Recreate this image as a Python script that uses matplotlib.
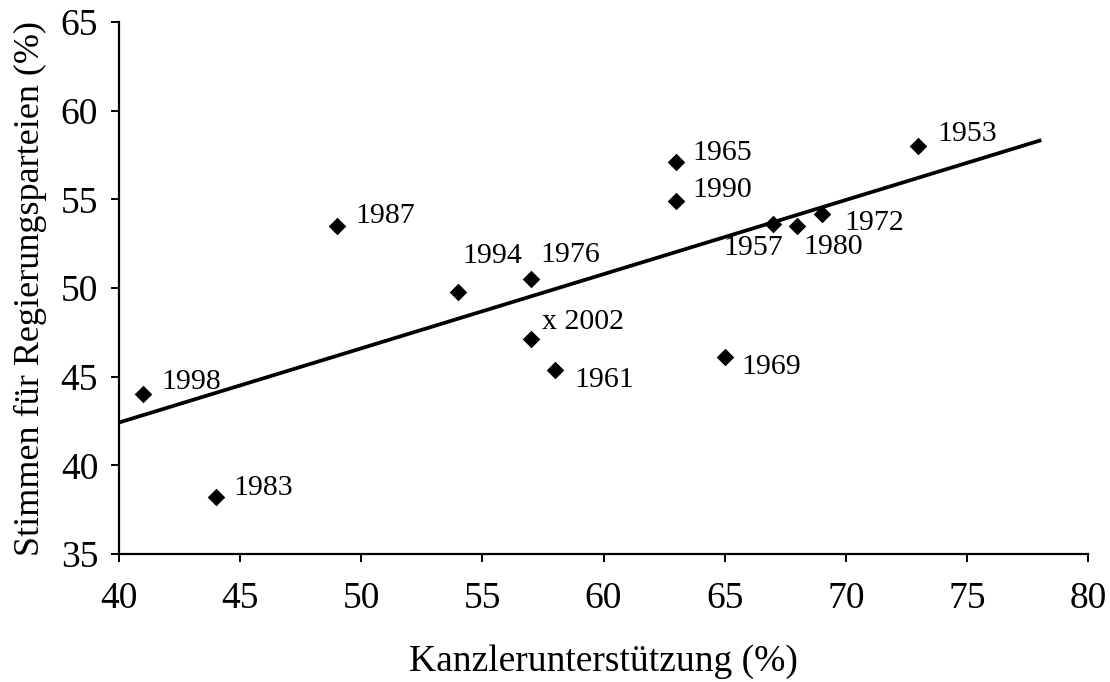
import matplotlib
matplotlib.use("Agg")
import matplotlib.pyplot as plt
import numpy as np

years = ["1953", "1957", "1961", "1965", "1969", "1972", "1976", "1980",
         "1983", "1987", "1990", "1994", "1998", "x 2002"]
kanzler = [73, 67, 58, 63, 65, 69, 57, 68, 44, 49, 63, 54, 41, 57]
stimmen = [58.0, 53.6, 45.4, 57.1, 46.1, 54.2, 50.5, 53.5, 38.2, 53.5, 54.9, 49.8, 44.0, 47.1]

# label offsets in pixels (dx, dy, ha)
offsets = {
    "1953": (19, 12, "left"),
    "1957": (-20, -24, "center"),
    "1961": (19, -10, "left"),
    "1965": (16, 9, "left"),
    "1969": (17, -10, "left"),
    "1972": (23, -9, "left"),
    "1976": (10, 24, "left"),
    "1980": (36, -21, "center"),
    "1983": (17, 9, "left"),
    "1987": (18, 10, "left"),
    "1990": (16, 11, "left"),
    "1994": (4, 36, "left"),
    "1998": (18, 12, "left"),
    "x 2002": (11, 17, "left"),
}

plt.rcParams["font.family"] = ["Liberation Serif", "DejaVu Serif"]

fig = plt.figure(figsize=(11.1, 6.82), dpi=100)
ax = fig.add_axes([119 / 1110, 1 - 554 / 682, (1088 - 119) / 1110, (554 - 22) / 682])

ax.scatter(kanzler, stimmen, marker="D", s=80, color="black", zorder=3, linewidths=0)

slope, intercept = np.polyfit(kanzler, stimmen, 1)
xl = np.array([40, 78])
ax.plot(xl, slope * xl + intercept, color="black", lw=2.7, zorder=2)

for yr, x, y in zip(years, kanzler, stimmen):
    dx, dy, ha = offsets[yr]
    ax.annotate(yr, (x, y), xytext=(dx, dy), textcoords="offset pixels",
                ha=ha, va="center", fontsize=21.5, color="black")

ax.set_xlim(40, 80)
ax.set_ylim(35, 65)
ax.set_xticks(np.arange(40, 81, 5))
ax.set_yticks(np.arange(35, 66, 5))
for s in ["top", "right"]:
    ax.spines[s].set_visible(False)
for s in ["left", "bottom"]:
    ax.spines[s].set_linewidth(1.6)
ax.tick_params(axis="both", direction="out", length=6, width=1.4, labelsize=27)
ax.tick_params(axis="y", pad=9)
ax.tick_params(axis="x", pad=14)

ax.set_xlabel("Kanzlerunterstützung (%)", fontsize=27, labelpad=20)
ax.set_ylabel("Stimmen für Regierungsparteien (%)", fontsize=26, labelpad=10)

fig.savefig("out.png", dpi=100)
